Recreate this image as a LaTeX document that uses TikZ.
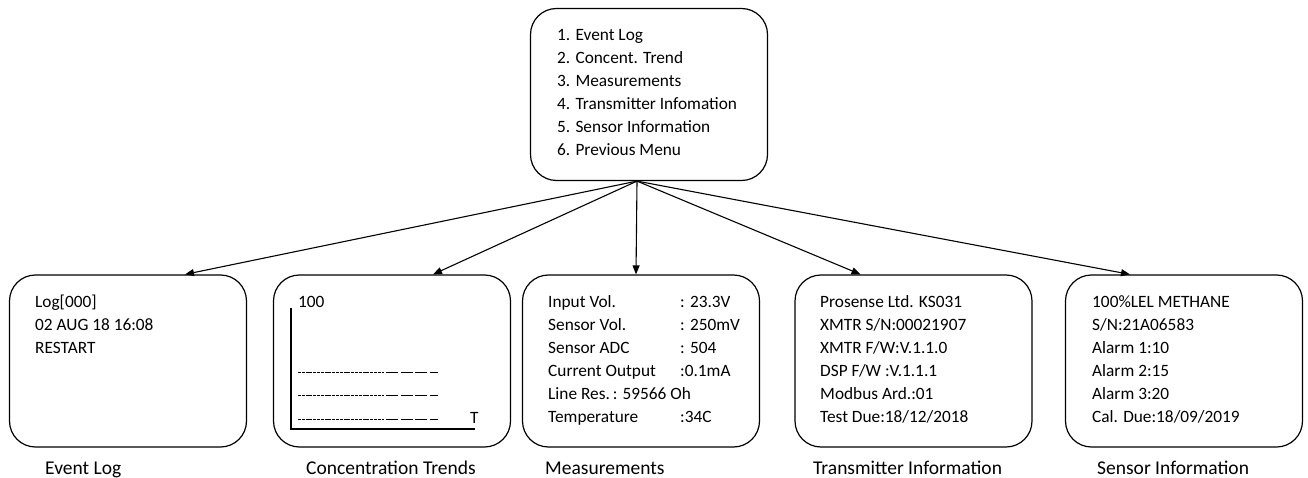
\documentclass[tikz,border=0pt]{standalone}
\usepackage{fontspec}
\setmainfont{Carlito}
\usepackage{tikz}
\usetikzlibrary{arrows.meta,calc}

\newcommand{\boxfont}{\fontsize{17.3}{23}\selectfont}
\newcommand{\capfont}{\fontsize{19.5}{24}\selectfont}

\tikzset{
  scrbox/.style={draw,line width=1.2pt,rounded corners=26pt,
    minimum width=237pt,minimum height=172pt,inner sep=0pt},
  % base west = baseline of the last line
  scrtext/.style={anchor=base west,align=left,inner sep=0pt,font=\boxfont},
  scrcap/.style={anchor=base west,inner sep=0pt,font=\capfont},
  trendline/.style={line width=0.9pt,dash pattern=on 3pt off 0.8pt},
  trendtail/.style={line width=0.9pt,dash pattern=on 12pt off 2.5pt},
}

\begin{document}
\begin{tikzpicture}[x=1pt,y=-1pt,>={Triangle[length=9pt,width=7pt]}]
  \useasboundingbox (0,0) rectangle (1308,478);

  % ------- メインメニュー -------
  \node[scrbox] (menu) at (649,94.5) {};
  \node[scrtext] (menutxt) at (557,156) {1. Event Log\\2. Concent. Trend\\3. Measurements\\
    4. Transmitter Infomation\\5. Sensor Information\\6. Previous Menu};

  %================= 下段：各画面 =================
  \node[scrbox] (evlog)  at (128,361)    {};
  \node[scrbox] (trend)  at (392,361)    {};
  \node[scrbox] (meas)   at (641,361)    {};
  \node[scrbox] (xmtr)   at (913.5,361)  {};
  \node[scrbox] (sensor) at (1184,361)   {};

  % ---- Event Log ----
  \node[scrtext] (evlogtxt) at (35,353) {Log[000]\\02 AUG 18 16:08\\RESTART};

  % ---- Concentration Trends（軸と破線） ----
  \begin{scope}
    \node[scrtext] (trendtop) at (298,307) {100};
    \node[scrtext] (trendT) at (470,423) {T};
    \draw[line width=1.2pt] (291,308) -- (291,429) -- (475,429);
    \foreach \yy in {372,395,419} {
      \draw[trendline] (298,\yy) -- (384,\yy);
      \draw[trendtail] (386,\yy) -- (438,\yy);
    }
  \end{scope}

  % ---- Measurements（値の列をそろえる） ----
  \node[scrtext] (meastxt) at (548,422) {%
    \makebox[132pt][l]{Input Vol.}: 23.3V\\
    \makebox[132pt][l]{Sensor Vol.}: 250mV\\
    \makebox[132pt][l]{Sensor ADC}: 504\\
    \makebox[132pt][l]{Current Output}:0.1mA\\
    Line Res.\,: 59566 Oh\\
    \makebox[132pt][l]{Temperature}:34C};

  % ---- Transmitter Information ----
  \node[scrtext] (xmtrtxt) at (820,422) {Prosense Ltd. KS031\\XMTR S/N:00021907\\
    XMTR F/W:V.1.1.0\\DSP F/W :V.1.1.1\\Modbus Ard.:01\\Test Due:18/12/2018};

  % ---- Sensor Information ----
  \node[scrtext] (sensortxt) at (1092,422) {100\%LEL METHANE\\S/N:21A06583\\
    Alarm 1:10\\Alarm 2:15\\Alarm 3:20\\Cal. Due:18/09/2019};

  % ------- 画面名 -------
  \node[scrcap] (evlogcap)  at (45,474)   {Event Log};
  \node[scrcap] (trendcap)  at (306,474)  {Concentration Trends};
  \node[scrcap] (meascap)   at (545,474)  {Measurements};
  \node[scrcap] (xmtrcap)   at (813,474)  {Transmitter Information};
  \node[scrcap] (sensorcap) at (1097,474) {Sensor Information};

  % ------- 矢印：メニューから各画面へ -------
  \coordinate (menuout)   at ([xshift=-12pt]menu.south);
  \coordinate (evlogin)   at ([xshift=57pt]evlog.north);
  \coordinate (trendin)   at ([xshift=41pt]trend.north);
  \coordinate (measin)    at ([xshift=-5pt]meas.north);
  \coordinate (xmtrin)    at ([xshift=-53pt]xmtr.north);
  \coordinate (sensorin)  at ([xshift=-54pt]sensor.north);
  \foreach \t in {evlogin,trendin,measin,xmtrin,sensorin}
    \draw[->,line width=1.1pt] (menuout) -- (\t);

\end{tikzpicture}
\end{document}
